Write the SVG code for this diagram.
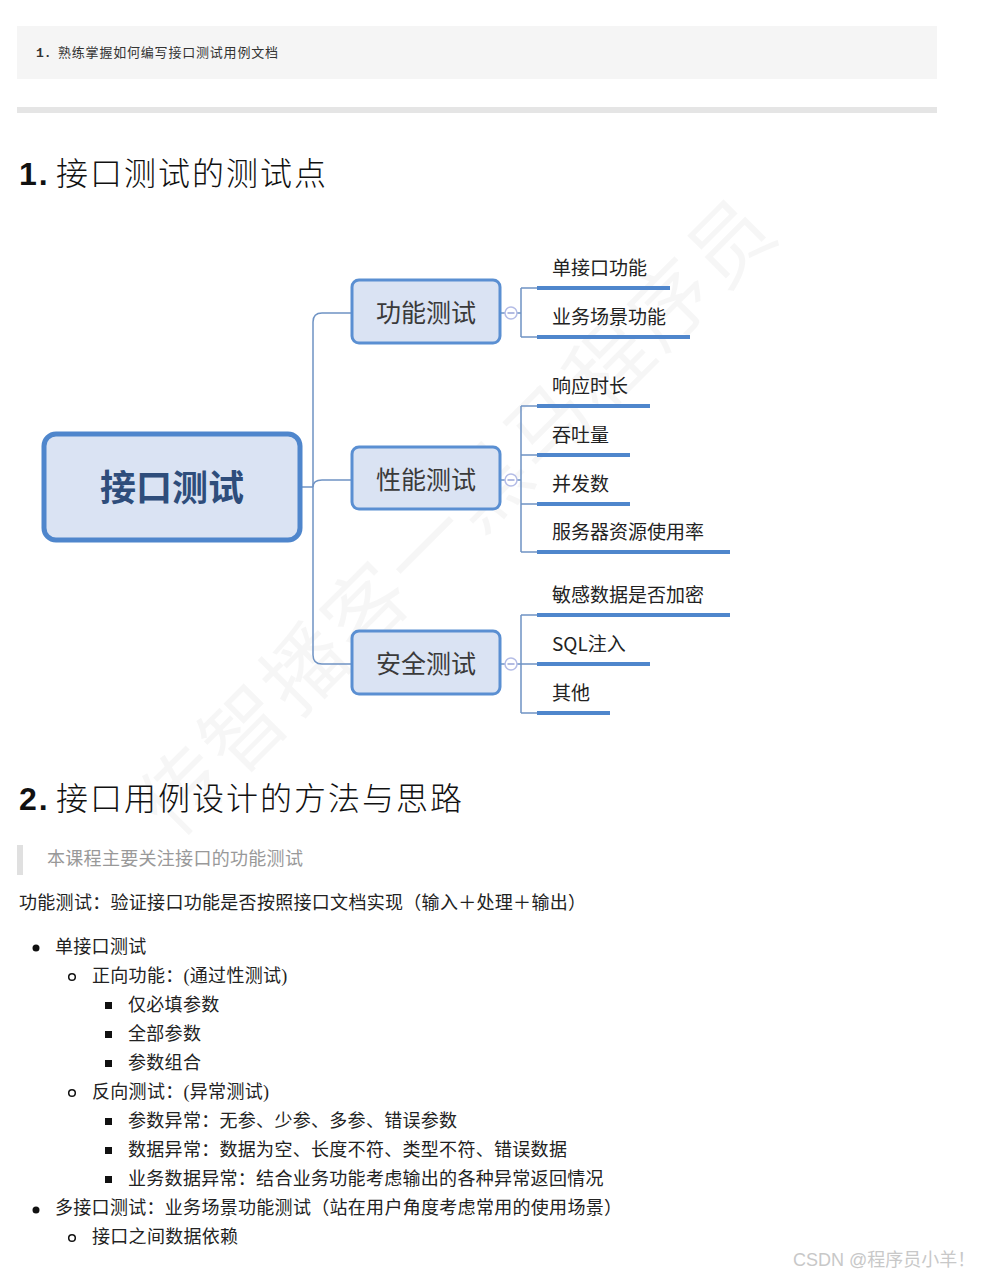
<svg xmlns="http://www.w3.org/2000/svg" width="981" height="1277" viewBox="0 0 981 1277">
<style>
.body{font-family:"Liberation Serif","Noto Sans CJK SC",serif;font-size:18px;fill:#222;letter-spacing:0.3px}
.h{font-family:"Liberation Sans","Noto Sans CJK SC",sans-serif;font-size:32px;fill:#111;letter-spacing:2px}
.hn{font-weight:bold}
.hz{font-weight:300}
.root{fill:#dae3f3;stroke:#4f86cc;stroke-width:5}
.rootT{font-family:"Noto Sans CJK SC",sans-serif;font-size:36px;font-weight:bold;fill:#2e4d7b}
.br{fill:#dae3f3;stroke:#5a8fd2;stroke-width:3}
.brT{font-family:"Noto Sans CJK SC",sans-serif;font-size:25px;fill:#3a3a3a}
.lf{font-family:"Noto Sans CJK SC",sans-serif;font-size:19px;fill:#222}
.ul{stroke:#4f86cc;stroke-width:4;fill:none}
.ln{stroke:#6f93c4;stroke-width:1.5;fill:none}
.col{fill:#fff;stroke:#b4bce6;stroke-width:1.5}
.colm{stroke:#9aa4d8;stroke-width:1.5}
</style>

<!-- watermark -->
<text x="0" y="0" transform="translate(175,840) rotate(-45)" font-family="Noto Sans CJK SC, sans-serif" font-size="82" fill="#000" fill-opacity="0.035" letter-spacing="4">传智播客一黑马程序员</text>

<!-- top code box -->
<g id="topbox">
<rect x="17" y="26" width="920" height="53" fill="#f5f5f5"/>
<text x="36" y="57" font-family="Liberation Mono,monospace" font-size="13" font-weight="bold" fill="#333">1.</text>
<text x="58" y="57" font-family="Liberation Serif,Noto Sans CJK SC,serif" font-size="13" fill="#333" letter-spacing="0.8">熟练掌握如何编写接口测试用例文档</text>
</g>
<rect x="17" y="107" width="920" height="6" fill="#e5e5e5"/>

<g id="heading1">
<text x="19" y="185" class="h"><tspan class="hn">1.</tspan><tspan class="hz" x="56">接口测试的测试点</tspan></text>
</g>

<!-- connectors -->
<g id="connectors">
<path class="ln" d="M300 487 H313"/>
<path class="ln" d="M313 487 V322 Q313 313 322 313 H352"/>
<path class="ln" d="M313 487 Q313 480 322 480 H352"/>
<path class="ln" d="M313 487 V655 Q313 664 322 664 H352"/>
<path class="ln" d="M501 313 H505 M517 313 H521 M521 288 V337 M521 288 H537 M521 337 H537"/>
<path class="ln" d="M501 480 H505 M517 480 H521 M521 406 V552 M521 406 H537 M521 455 H537 M521 504 H537 M521 552 H537"/>
<path class="ln" d="M501 664 H505 M517 664 H521 M521 615 V713 M521 615 H537 M521 664 H537 M521 713 H537"/>
<circle class="col" cx="511" cy="313" r="6"/><path class="colm" d="M507.5 313 H514.5"/>
<circle class="col" cx="511" cy="480" r="6"/><path class="colm" d="M507.5 480 H514.5"/>
<circle class="col" cx="511" cy="664" r="6"/><path class="colm" d="M507.5 664 H514.5"/>
</g>

<g id="root">
<rect class="root" x="44" y="434" width="256" height="106" rx="12"/>
<text class="rootT" x="172" y="501" text-anchor="middle">接口测试</text>
</g>

<g id="func">
<rect class="br" x="352" y="280" width="148" height="63" rx="7"/>
<text class="brT" x="426" y="322" text-anchor="middle">功能测试</text>
</g>
<g id="perf">
<rect class="br" x="352" y="447" width="148" height="62" rx="7"/>
<text class="brT" x="426" y="489" text-anchor="middle">性能测试</text>
</g>
<g id="sec">
<rect class="br" x="352" y="631" width="148" height="63" rx="7"/>
<text class="brT" x="426" y="673" text-anchor="middle">安全测试</text>
</g>

<g id="f1"><text class="lf" x="552" y="275">单接口功能</text><path class="ul" d="M537 288 H670"/></g>
<g id="f2"><text class="lf" x="552" y="324">业务场景功能</text><path class="ul" d="M537 337 H690"/></g>
<g id="p1"><text class="lf" x="552" y="393">响应时长</text><path class="ul" d="M537 406 H650"/></g>
<g id="p2"><text class="lf" x="552" y="442">吞吐量</text><path class="ul" d="M537 455 H630"/></g>
<g id="p3"><text class="lf" x="552" y="491">并发数</text><path class="ul" d="M537 504 H630"/></g>
<g id="p4"><text class="lf" x="552" y="539">服务器资源使用率</text><path class="ul" d="M537 552 H730"/></g>
<g id="s1"><text class="lf" x="552" y="602">敏感数据是否加密</text><path class="ul" d="M537 615 H730"/></g>
<g id="s2"><text class="lf" x="552" y="651">SQL注入</text><path class="ul" d="M537 664 H650"/></g>
<g id="s3"><text class="lf" x="552" y="700">其他</text><path class="ul" d="M537 713 H610"/></g>

<g id="heading2">
<text x="19" y="810" class="h"><tspan class="hn">2.</tspan><tspan class="hz" x="56">接口用例设计的方法与思路</tspan></text>
</g>

<g id="quote">
<rect x="17" y="845" width="6" height="30" fill="#e0e0e0"/>
<text x="47" y="865" class="body" style="fill:#999">本课程主要关注接口的功能测试</text>
</g>

<text x="19" y="909" class="body">功能测试：验证接口功能是否按照接口文档实现（输入＋处理＋输出）</text>

<g id="list">
<circle cx="36" cy="948" r="3.5" fill="#111"/>
<text x="55" y="953" class="body">单接口测试</text>
<circle cx="72" cy="977" r="3.3" fill="none" stroke="#111" stroke-width="1.5"/>
<text x="92" y="982" class="body">正向功能：(通过性测试)</text>
<rect x="105" y="1002" width="7" height="7" fill="#111"/>
<text x="128" y="1011" class="body">仅必填参数</text>
<rect x="105" y="1031" width="7" height="7" fill="#111"/>
<text x="128" y="1040" class="body">全部参数</text>
<rect x="105" y="1060" width="7" height="7" fill="#111"/>
<text x="128" y="1069" class="body">参数组合</text>
<circle cx="72" cy="1093" r="3.3" fill="none" stroke="#111" stroke-width="1.5"/>
<text x="92" y="1098" class="body">反向测试：(异常测试)</text>
<rect x="105" y="1118" width="7" height="7" fill="#111"/>
<text x="128" y="1127" class="body">参数异常：无参、少参、多参、错误参数</text>
<rect x="105" y="1147" width="7" height="7" fill="#111"/>
<text x="128" y="1156" class="body">数据异常：数据为空、长度不符、类型不符、错误数据</text>
<rect x="105" y="1176" width="7" height="7" fill="#111"/>
<text x="128" y="1185" class="body">业务数据异常：结合业务功能考虑输出的各种异常返回情况</text>
<circle cx="36" cy="1210" r="3.5" fill="#111"/>
<text x="55" y="1214" class="body">多接口测试：业务场景功能测试（站在用户角度考虑常用的使用场景）</text>
<circle cx="72" cy="1238" r="3.3" fill="none" stroke="#111" stroke-width="1.5"/>
<text x="92" y="1243" class="body">接口之间数据依赖</text>
</g>

<text x="793" y="1266" font-family="Liberation Sans,Noto Sans CJK SC,sans-serif" font-size="18" fill="#c8c8c8">CSDN @程序员小羊！</text>
</svg>
